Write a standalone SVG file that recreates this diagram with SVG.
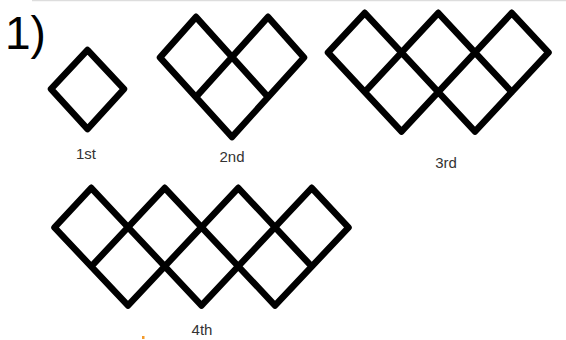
<svg xmlns="http://www.w3.org/2000/svg" width="566" height="340" viewBox="0 0 566 340">
<style>
.m{stroke:#000;stroke-width:6.5;stroke-linecap:round;stroke-linejoin:round;fill:none}
.lbl{font-family:"Liberation Sans",Arial,sans-serif;font-size:15px;fill:#333;text-anchor:middle}
.num{font-family:"Liberation Sans",Arial,sans-serif;font-size:46px;fill:#000}
</style>
<rect width="566" height="340" fill="#fff"/>
<line x1="32" y1="0.5" x2="566" y2="0.5" stroke="#ddd" stroke-width="1.5"/>
<text class="num" x="5" y="49">1)</text>
<g id="fig1">
<path class="m" d="M51,89 L87.5,50 L124,89 L87.5,129 Z"/>
<text class="lbl" x="86" y="159">1st</text>
</g>
<g id="fig2">
<path class="m" d="M160,57.5 L196,17 M160,57.5 L232,137 M196,17 L268,97 M268,17 L196,97 M268,17 L304,57.5 M304,57.5 L232,137"/>
<text class="lbl" x="232" y="162">2nd</text>
</g>
<g id="fig3">
<path class="m" d="M328,52.5 L401.5,131.5 M364.75,13 L475,131.5 M438.25,13 L511.75,92 M511.75,13 L548.5,52.5 M328,52.5 L364.75,13 M364.75,92 L438.25,13 M401.5,131.5 L511.75,13 M475,131.5 L548.5,52.5"/>
<text class="lbl" x="446" y="168">3rd</text>
</g>
<g id="fig4">
<path class="m" d="M54.5,227.5 L128,305.5 M91.25,188 L201.5,305.5 M164.75,188 L275,305.5 M238.25,188 L311.75,266.5 M311.75,188 L348.5,227.5 M54.5,227.5 L91.25,188 M91.25,266.5 L164.75,188 M128,305.5 L238.25,188 M201.5,305.5 L311.75,188 M275,305.5 L348.5,227.5"/>
<text class="lbl" x="202" y="335">4th</text>
</g>
<rect x="142" y="336" width="2.5" height="3" fill="#f39a2b"/>
</svg>
